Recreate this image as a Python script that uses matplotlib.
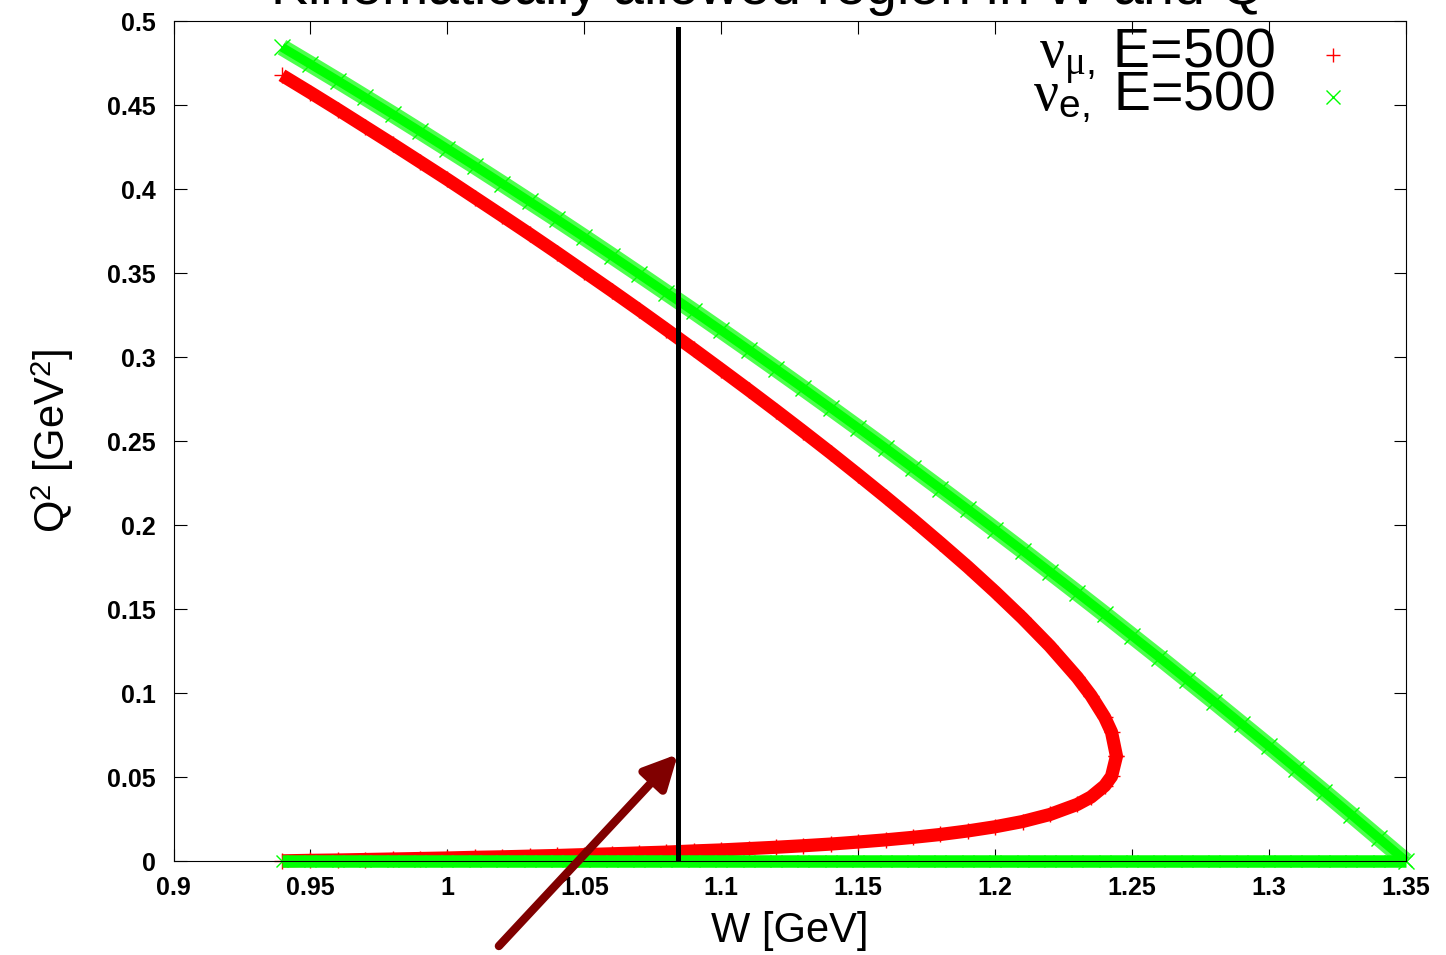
import matplotlib.pyplot as plt

plt.rcParams['font.family'] = ['Liberation Sans', 'DejaVu Sans']
plt.rcParams['mathtext.fontset'] = 'custom'
plt.rcParams['mathtext.rm'] = 'Liberation Serif'
plt.rcParams['mathtext.sf'] = 'Liberation Sans'
plt.rcParams['mathtext.it'] = 'Liberation Serif:italic'
plt.rcParams['mathtext.bf'] = 'Liberation Sans:bold'

# nu_mu, E = 500 MeV: upper and lower Q^2 edge, both end at the turning point
w_mu = [0.9396, 0.95, 0.96, 0.97, 0.98, 0.99, 1.00, 1.01, 1.02, 1.03, 1.04,
        1.05, 1.06, 1.07, 1.08, 1.09, 1.10, 1.11, 1.12, 1.13, 1.14, 1.15,
        1.16, 1.17, 1.18, 1.19, 1.20, 1.21, 1.22, 1.23, 1.235, 1.24, 1.2425,
        1.2443]
q2_mu_hi = [0.4677, 0.4574, 0.4473, 0.4370, 0.4267, 0.4162, 0.4057, 0.3949,
            0.3841, 0.3732, 0.3621, 0.3508, 0.3395, 0.3280, 0.3163, 0.3045,
            0.2925, 0.2804, 0.2681, 0.2556, 0.2429, 0.2299, 0.2167, 0.2032,
            0.1893, 0.1751, 0.1602, 0.1446, 0.1279, 0.1093, 0.0985, 0.0855,
            0.0767, 0.0624]
q2_mu_lo = [0.0001, 0.0004, 0.0006, 0.0009, 0.0012, 0.0015, 0.0018, 0.0022,
            0.0025, 0.0029, 0.0033, 0.0038, 0.0043, 0.0048, 0.0053, 0.0060,
            0.0066, 0.0074, 0.0082, 0.0091, 0.0101, 0.0113, 0.0126, 0.0141,
            0.0158, 0.0179, 0.0204, 0.0235, 0.0277, 0.0337, 0.0381, 0.0448,
            0.0504, 0.0624]

# nu_e, E = 500 MeV
w_e = [0.9396, 0.95, 0.96, 0.97, 0.98, 0.99, 1.00, 1.01, 1.02, 1.03, 1.04,
       1.05, 1.06, 1.07, 1.08, 1.09, 1.10, 1.11, 1.12, 1.13, 1.14, 1.15,
       1.16, 1.17, 1.18, 1.19, 1.20, 1.21, 1.22, 1.23, 1.24, 1.25, 1.26,
       1.27, 1.28, 1.29, 1.30, 1.31, 1.32, 1.33, 1.34, 1.35]
q2_e_hi = [0.4844, 0.4743, 0.4645, 0.4545, 0.4445, 0.4343, 0.4240, 0.4137,
           0.4032, 0.3926, 0.3820, 0.3712, 0.3603, 0.3493, 0.3382, 0.3271,
           0.3158, 0.3044, 0.2929, 0.2813, 0.2696, 0.2578, 0.2459, 0.2338,
           0.2217, 0.2095, 0.1972, 0.1848, 0.1722, 0.1596, 0.1469, 0.1340,
           0.1211, 0.1080, 0.0949, 0.0816, 0.0683, 0.0548, 0.0413, 0.0276,
           0.0138, 0.0]
q2_e_lo = [0.0, 0.0, 0.0, 0.0, 0.0, 0.0, 0.0, 0.0, 0.0, 0.0, 0.0, 0.0, 0.0,
           0.0, 0.0, 0.0, 0.0, 0.0, 0.0, 0.0, 0.0, 0.0, 0.0, 0.0, 0.0, 0.0,
           0.0, 0.0, 0.0, 0.0, 0.0, 0.0, 0.0, 0.0, 0.0, 0.0, 0.0, 0.0, 0.0,
           0.0, 0.0, 0.0]

label_mu = r'$\mathrm{\nu}_{\mathrm{\mu}\mathsf{,}}$ E=500'
label_e = r'$\mathrm{\nu}_{\mathsf{e,}}$ E=500'

# W cut and the arrow pointing at it
w_cut = 1.0843
q2_cut = [0.0, 0.495]
arrow_tail = (1.0188, -0.0506)
arrow_tip = (1.0842, 0.0637)

x_ticks = [0.9, 0.95, 1.0, 1.05, 1.1, 1.15, 1.2, 1.25, 1.3, 1.35]
x_tick_labels = ['0.9', '0.95', '1', '1.05', '1.1', '1.15', '1.2', '1.25',
                 '1.3', '1.35']
y_ticks = [0.0, 0.05, 0.1, 0.15, 0.2, 0.25, 0.3, 0.35, 0.4, 0.45, 0.5]
y_tick_labels = ['0', '0.05', '0.1', '0.15', '0.2', '0.25', '0.3', '0.35',
                 '0.4', '0.45', '0.5']

RED = '#ff0000'
GREEN = '#00ff00'
GREEN_LIGHT = '#4dff4d'

fig = plt.figure(figsize=(14.46, 9.55), dpi=100)
ax = fig.add_axes([0.12, 0.0984, 0.8523, 0.8796])

# nu_mu band: upper edge out to the nose, lower edge back
mu_w = w_mu + w_mu[::-1]
mu_q2 = q2_mu_hi + q2_mu_lo[::-1]
ax.plot(mu_w, mu_q2, color=RED, lw=9.5, solid_joinstyle='round',
        solid_capstyle='butt', clip_on=False, zorder=2)
ax.plot(mu_w, mu_q2, ls='none', marker='+', ms=11, mew=1.0, color=RED,
        clip_on=False, zorder=2)

# nu_e band, drawn over the nu_mu one
ax.plot(w_e, q2_e_hi, color=GREEN_LIGHT, lw=12, solid_capstyle='butt',
        clip_on=False, zorder=2.1)
ax.plot(w_e, q2_e_hi, color=GREEN, lw=6.5, solid_capstyle='butt',
        clip_on=False, zorder=2.1)
ax.plot(w_e, q2_e_hi, ls='none', marker='x', ms=11, mew=1.0, color=GREEN,
        clip_on=False, zorder=2.1)
ax.plot(w_e, q2_e_lo, color=GREEN, lw=9, solid_capstyle='butt',
        clip_on=False, zorder=2.1)
ax.plot(w_e, q2_e_lo, ls='none', marker='x', ms=9, mew=1.0, color=GREEN,
        clip_on=False, zorder=2.1)

ax.plot([w_cut, w_cut], q2_cut, color='black', lw=3.6, zorder=3)

ax.annotate('', xy=arrow_tip, xytext=arrow_tail,
            arrowprops=dict(arrowstyle='-|>,head_length=1.0,head_width=0.5',
                            mutation_scale=20, color='#800000', lw=6,
                            shrinkA=0, shrinkB=0),
            annotation_clip=False, zorder=4)

ax.set_xlim(0.9, 1.35)
ax.set_ylim(0.0, 0.5)
ax.set_xticks(x_ticks)
ax.set_xticklabels(x_tick_labels)
ax.set_yticks(y_ticks)
ax.set_yticklabels(y_tick_labels)
ax.tick_params(direction='in', length=9, width=0.8, top=True, right=True,
               labelsize=18)
ax.tick_params(axis='x', pad=11)
ax.tick_params(axis='y', pad=13)
for lbl in ax.get_xticklabels() + ax.get_yticklabels():
    lbl.set_fontweight('bold')
for sp in ax.spines.values():
    sp.set_linewidth(0.8)

ax.set_xlabel('W [GeV]', fontsize=30)
ax.xaxis.set_label_coords(0.5, -0.0595)
ax.set_ylabel(r'Q$^{\mathsf{2}}$ [GeV$^{\mathsf{2}}$]', fontsize=30)
ax.yaxis.set_label_coords(-0.079, 0.5)

fig.text(778 / 1446, 1 - 5 / 955,
         r'Kinematically allowed region in W and Q$^{\mathsf{2}}$',
         ha='center', va='baseline', fontsize=40)

# key, gnuplot style: text right aligned, sample point to its right
ax.text(0.8937, 0.944, label_mu, transform=ax.transAxes, ha='right',
        va='baseline', fontsize=40, zorder=5)
ax.text(0.8937, 0.894, label_e, transform=ax.transAxes, ha='right',
        va='baseline', fontsize=40, zorder=5)
ax.plot([0.9408], [0.9595], marker='+', ms=10, mew=1.0, color=RED,
        transform=ax.transAxes, clip_on=False)
ax.plot([0.9408], [0.9095], marker='x', ms=10, mew=1.0, color=GREEN,
        transform=ax.transAxes, clip_on=False)

fig.savefig('out.png', dpi=100)
